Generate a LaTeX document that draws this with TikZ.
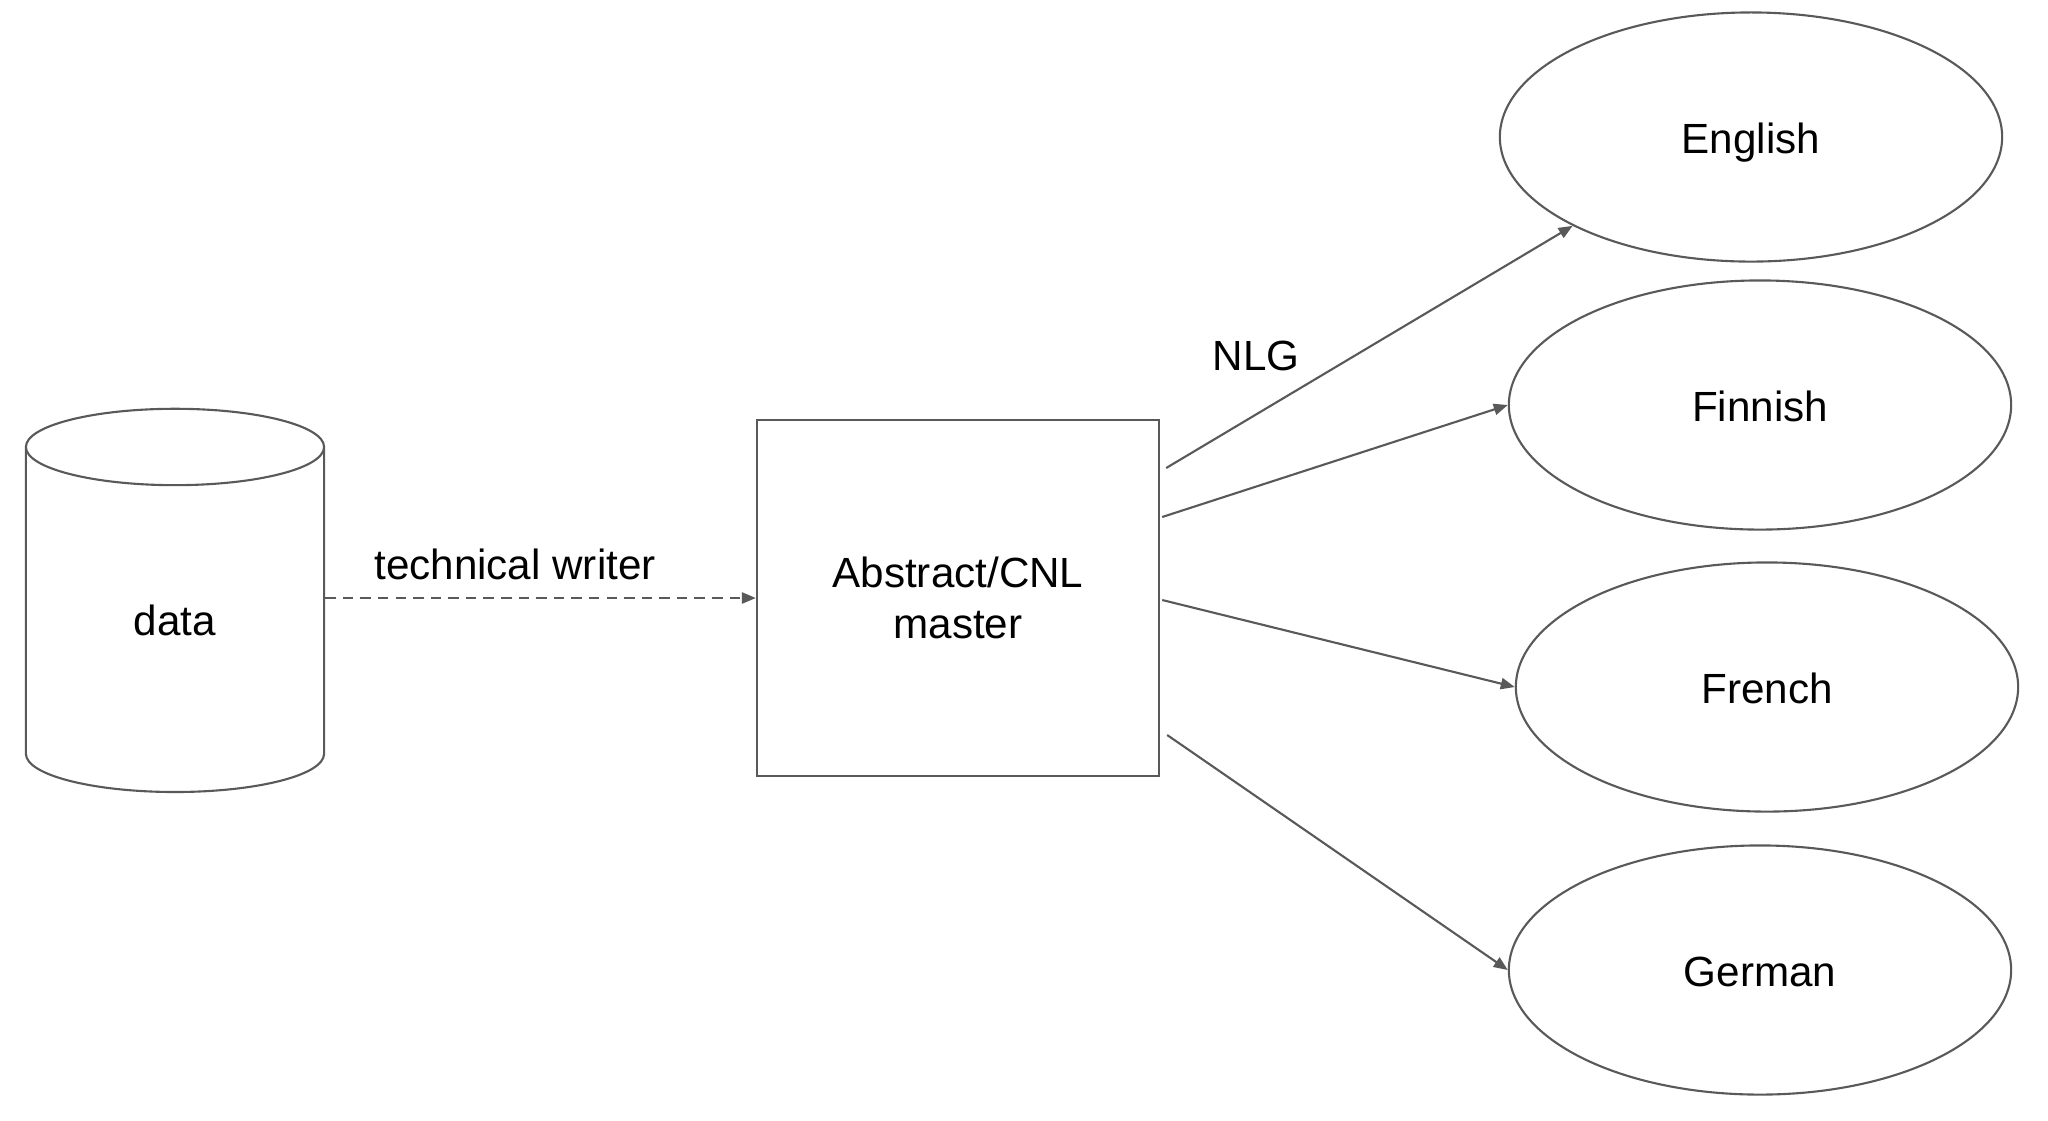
\documentclass[tikz,border=0pt]{standalone}
\usepackage{fontspec}
\setmainfont{Liberation Sans}
\usetikzlibrary{shapes.geometric,arrows.meta,calc}
\definecolor{linegray}{HTML}{595959}
\tikzstyle{store} = [draw=linegray, line width=0.6pt, cylinder, shape border rotate=90, aspect=0.93, minimum width=2.98cm, minimum height=3.83cm, inner sep=0pt]
\tikzstyle{block} = [draw=linegray, line width=0.6pt, rectangle, minimum width=4.02cm, minimum height=3.55cm, align=center]
\tikzstyle{lang} = [draw=linegray, line width=0.6pt, ellipse, minimum width=5.02cm, minimum height=2.49cm, inner sep=0pt, text height=0.92em, text depth=0pt]
\tikzstyle{invis} = [draw=none]

\begin{document}
\begin{tikzpicture}[->,>={Triangle[length=4pt,width=3.2pt]},x=0.01cm,y=-0.01cm,font=\fontsize{12}{14.5}\selectfont,every edge/.style={draw=linegray, line width=0.6pt}]
\useasboundingbox (0,0) rectangle (2048,1120);

\node[store] (data) at (175,620) {data};
\node[block] (master) at (958,598) {Abstract/CNL\\master};

\node[lang] (english) at (1751,137) {English};
\node[lang] (finnish) at (1760,405) {Finnish};
\node[lang] (french) at (1767,687) {French};
\node[lang] (german) at (1760,970) {German};

\node[invis] (writer) at (515,564) {technical writer};
\node[invis] (nlg) at (1256,356) {NLG};

\coordinate (m1) at ($(master.east)+(6,-130)$);
\coordinate (m2) at ($(master.east)+(2,-81)$);
\coordinate (m3) at ($(master.east)+(2,2)$);
\coordinate (m4) at ($(master.east)+(7,137)$);

\path
(data.east |- master) edge [dash pattern=on 3pt off 2pt] (master);

\path
(m1) edge [] (english.south west)
(m2) edge [] (finnish.west)
(m3) edge [] (french.west)
(m4) edge [] (german.west);

\end{tikzpicture}
\end{document}
